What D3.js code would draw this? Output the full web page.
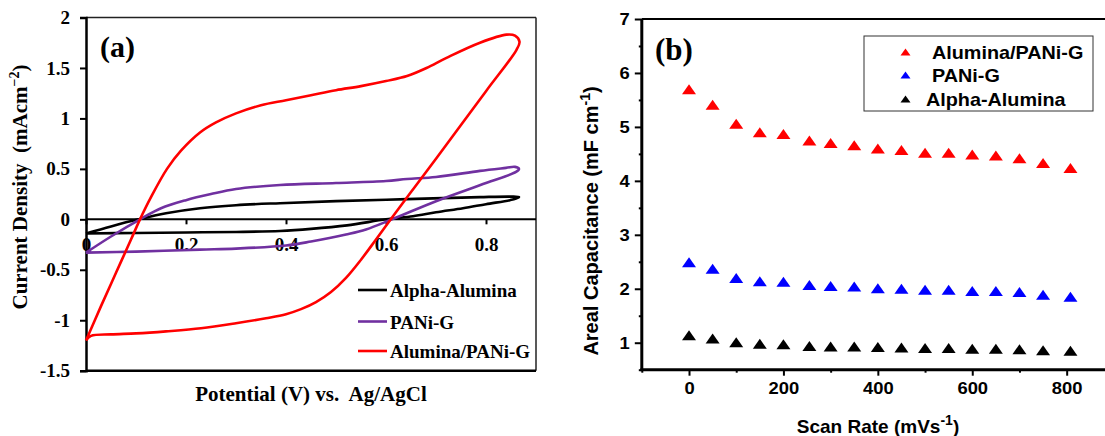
<!DOCTYPE html>
<html>
<head>
<meta charset="utf-8">
<script src="https://cdn.jsdelivr.net/npm/d3@7"></script>
<style>
html,body{margin:0;padding:0;background:#fff;}
svg{display:block;}
text{white-space:pre;}
</style>
</head>
<body>
<svg id="chart" width="1105" height="436"></svg>
<script>
// ---------- Panel (a): cyclic voltammograms [potential V, current mA cm^-2] ----------
const alphaAluminaCV = [
  [0,-0.14],[0.05,-0.07],[0.105,0],[0.16,0.06],[0.228,0.11],[0.3,0.14],[0.388,0.16],[0.5,0.18],
  [0.642,0.20],[0.788,0.22],[0.85,0.225],[0.866,0.22],[0.86,0.205],[0.848,0.19],[0.8,0.15],
  [0.754,0.11],[0.7,0.07],[0.654,0.03],[0.6,0],[0.522,-0.06],[0.45,-0.095],[0.388,-0.115],
  [0.3,-0.125],[0.2,-0.13],[0.1,-0.135],[0,-0.14]
];
const paniGCV = [
  [0,-0.33],[0.05,-0.17],[0.108,0],[0.15,0.11],[0.2,0.19],[0.25,0.25],[0.3,0.30],[0.388,0.34],
  [0.5,0.36],[0.6,0.38],[0.642,0.40],[0.7,0.42],[0.788,0.48],[0.84,0.51],[0.858,0.52],[0.866,0.50],
  [0.86,0.47],[0.8,0.36],[0.7,0.18],[0.612,0],[0.56,-0.10],[0.52,-0.15],[0.45,-0.22],[0.4,-0.26],
  [0.3,-0.29],[0.228,-0.30],[0.1,-0.32],[0,-0.33]
];
const aluminaPaniGCV = [
  [0,-1.2],[0.03,-0.86],[0.06,-0.53],[0.09,-0.20],[0.108,0],[0.13,0.22],[0.162,0.50],[0.19,0.68],
  [0.228,0.86],[0.26,0.96],[0.30,1.05],[0.35,1.13],[0.40,1.18],[0.45,1.23],[0.50,1.28],
  [0.55,1.32],[0.60,1.37],[0.642,1.42],[0.681,1.50],[0.721,1.60],[0.788,1.75],[0.841,1.83],
  [0.858,1.82],[0.867,1.76],[0.861,1.68],[0.8,1.27],[0.7,0.60],[0.65,0.27],[0.611,0.01],
  [0.58,-0.20],[0.55,-0.40],[0.52,-0.58],[0.49,-0.72],[0.46,-0.82],[0.43,-0.89],[0.40,-0.94],
  [0.36,-0.98],[0.30,-1.03],[0.23,-1.08],[0.16,-1.11],[0.10,-1.13],[0.05,-1.14],[0.01,-1.155],[0,-1.2]
];
const cvNames = ["Alpha-Alumina","PANi-G","Alumina/PANi-G"];
const cvColors = ["#000000","#7030a0","#ff0000"];
const aYTicks = [-1.5,-1,-0.5,0,0.5,1,1.5,2];
const aXTicks = [0,0.2,0.4,0.6,0.8];

// ---------- Panel (b): areal capacitance vs scan rate ----------
const scanRates = [0,50,100,150,200,255,300,350,400,450,500,550,600,650,700,750,808];
const capAluminaPaniG = [5.70,5.41,5.06,4.90,4.87,4.75,4.70,4.66,4.60,4.57,4.52,4.52,4.49,4.47,4.42,4.33,4.24];
const capPaniG = [2.49,2.37,2.20,2.14,2.13,2.07,2.05,2.04,2.01,2.00,1.98,1.98,1.96,1.96,1.94,1.89,1.85];
const capAlphaAlumina = [1.14,1.08,1.01,0.98,0.97,0.94,0.93,0.93,0.92,0.91,0.90,0.90,0.89,0.89,0.88,0.86,0.85];
const capNames = ["Alumina/PANi-G","PANi-G","Alpha-Alumina"];
const capColors = ["#ff0000","#0000ff","#000000"];
const bYTicks = [1,2,3,4,5,6,7];
const bYMinor = [0.5,1.5,2.5,3.5,4.5,5.5,6.5];
const bXTicks = [0,200,400,600,800];
const bXMinor = [-100,100,300,500,700];

const svg = d3.select("#chart");
const serif = "'Liberation Serif','Times New Roman',serif";
const sans = "'Liberation Sans',Arial,sans-serif";

// ===== Panel (a) =====
const xA = d3.scaleLinear().domain([0,0.9]).range([86,536]);
const yA = d3.scaleLinear().domain([-1.5,2]).range([370.7,17.5]);
const gA = svg.append("g");

// frame
gA.append("line").attr("x1",xA(0)).attr("x2",xA(0.9)).attr("y1",yA(2)).attr("y2",yA(2)).attr("stroke","#222").attr("stroke-width",1.5);
gA.append("line").attr("x1",xA(0.9)).attr("x2",xA(0.9)).attr("y1",yA(2)).attr("y2",yA(-1.5)).attr("stroke","#222").attr("stroke-width",1.5);
gA.append("line").attr("x1",xA(0)).attr("x2",xA(0.9)).attr("y1",yA(-1.5)).attr("y2",yA(-1.5)).attr("stroke","#000").attr("stroke-width",2.5);

// y axis
const yAxisA = d3.axisLeft(yA).tickValues(aYTicks).tickSize(6).tickPadding(10).tickFormat(d=>String(d));
const gyA = gA.append("g").attr("transform",`translate(${xA(0)},0)`).call(yAxisA);
gyA.select(".domain").attr("stroke","#000").attr("stroke-width",2.5);
gyA.selectAll(".tick line").attr("stroke-width",2);
gyA.selectAll(".tick text").attr("font-family",serif).attr("font-weight","bold").attr("font-size",19).attr("fill","#000");

// x axis at zero
const xAxisA = d3.axisBottom(xA).tickValues(aXTicks).tickSize(5).tickPadding(13).tickFormat(d=>String(d));
const gxA = gA.append("g").attr("transform",`translate(0,${yA(0)})`).call(xAxisA);
gxA.select(".domain").attr("stroke","#000").attr("stroke-width",2).attr("d",`M${xA(0)},0H${xA(0.9)}`);
gxA.selectAll(".tick line").attr("stroke-width",2);
gxA.selectAll(".tick text").attr("font-family",serif).attr("font-weight","bold").attr("font-size",19).attr("fill","#000");

// curves
const lineA = d3.line().x(d=>xA(d[0])).y(d=>yA(d[1])).curve(d3.curveCatmullRom.alpha(0.5));
[alphaAluminaCV,paniGCV,aluminaPaniGCV].forEach((s,i)=>{
  gA.append("path").attr("d",lineA(s)).attr("fill","none").attr("stroke",cvColors[i]).attr("stroke-width",2.6).attr("stroke-linejoin","round");
});

// legend (a)
const legAY = [290,321.5,351];
cvNames.forEach((n,i)=>{
  gA.append("line").attr("x1",358).attr("x2",387).attr("y1",legAY[i]).attr("y2",legAY[i]).attr("stroke",cvColors[i]).attr("stroke-width",2.6);
  gA.append("text").attr("x",390).attr("y",legAY[i]+7).attr("font-family",serif).attr("font-weight","bold").attr("font-size",19).text(n);
});

// labels (a)
gA.append("text").attr("x",100).attr("y",57).attr("font-family",serif).attr("font-weight","bold").attr("font-size",30).text("(a)");
gA.append("text").attr("x",311).attr("y",401).attr("text-anchor","middle").attr("font-family",serif).attr("font-weight","bold").attr("font-size",21).text("Potential (V) vs.  Ag/AgCl");
const ylA = gA.append("text").attr("transform","translate(27,187) rotate(-90)").attr("text-anchor","middle").attr("font-family",serif).attr("font-weight","bold").attr("font-size",21);
ylA.append("tspan").text("Current Density  (mAcm");
ylA.append("tspan").attr("font-size",14).attr("dy",-8).text("\u22122");
ylA.append("tspan").attr("dy",8).text(")");

// ===== Panel (b) =====
const xB = d3.scaleLinear().domain([-100,885]).range([641.8,1106.8]);
const yB = d3.scaleLinear().domain([0.5,7]).range([369.7,19]);
const gB = svg.append("g");

// top frame
gB.append("line").attr("x1",xB(-100)).attr("x2",1105).attr("y1",yB(7)).attr("y2",yB(7)).attr("stroke","#000").attr("stroke-width",2);

// y axis
const gyB = gB.append("g").attr("transform",`translate(${xB(-100)},0)`);
gyB.call(d3.axisLeft(yB).tickValues(bYMinor).tickSize(3).tickFormat(""));
gyB.select(".domain").remove();
gyB.selectAll(".tick line").attr("stroke-width",2);
const gyB2 = gB.append("g").attr("transform",`translate(${xB(-100)},0)`);
gyB2.call(d3.axisLeft(yB).tickValues(bYTicks).tickSize(7).tickPadding(5).tickFormat(d=>String(d)));
gyB2.select(".domain").attr("stroke-width",3).attr("d",`M0,${yB(7)}V${yB(0.5)}`);
gyB2.selectAll(".tick line").attr("stroke-width",2);
gyB2.selectAll(".tick text").each(function(){
  const t = d3.select(this);
  const x = +t.attr("x");
  t.attr("x",null).attr("dy",null).attr("transform",`translate(${x},5.5) scale(1.15,1)`);
}).attr("font-family",sans).attr("font-weight","bold").attr("font-size",16).attr("fill","#000");

// x axis
const gxB = gB.append("g").attr("transform",`translate(0,${yB(0.5)})`);
gxB.call(d3.axisBottom(xB).tickValues(bXMinor).tickSize(3).tickFormat(""));
gxB.select(".domain").remove();
gxB.selectAll(".tick line").attr("stroke-width",2);
const gxB2 = gB.append("g").attr("transform",`translate(0,${yB(0.5)})`);
gxB2.call(d3.axisBottom(xB).tickValues(bXTicks).tickSize(6).tickFormat(d=>String(d)));
gxB2.select(".domain").attr("stroke-width",3).attr("d",`M${xB(-100)-1.5},0H1105`);
gxB2.selectAll(".tick line").attr("stroke-width",2);
gxB2.selectAll(".tick text").attr("y",null).attr("dy",null).attr("transform","translate(0,24.5) scale(1.15,1)")
  .attr("font-family",sans).attr("font-weight","bold").attr("font-size",16).attr("fill","#000");

// markers
const tri = (cx,cy,w,h)=>`M${cx},${cy-h/2}L${cx+w/2},${cy+h/2}L${cx-w/2},${cy+h/2}Z`;
[capAluminaPaniG,capPaniG,capAlphaAlumina].forEach((vals,i)=>{
  gB.append("g").selectAll("path").data(vals).join("path")
    .attr("d",(d,j)=>tri(xB(scanRates[j]),yB(d),14,10))
    .attr("fill",capColors[i]);
});

// legend (b)
gB.append("rect").attr("x",864).attr("y",36).attr("width",229).attr("height",75).attr("fill","#fff").attr("stroke","#333").attr("stroke-width",1);
const legBY = [52,75,99];
const legBX = [932,932,926];
capNames.forEach((n,i)=>{
  gB.append("path").attr("d",tri(905.5,legBY[i],10,7)).attr("fill",capColors[i]);
  gB.append("text").attr("transform",`translate(${legBX[i]},${legBY[i]+6.5}) scale(1.1,1)`)
    .attr("font-family",sans).attr("font-weight","bold").attr("font-size",18).text(n);
});

// labels (b)
gB.append("text").attr("x",655).attr("y",60).attr("font-family",serif).attr("font-weight","bold").attr("font-size",31).text("(b)");
const xlB = gB.append("text").attr("x",878).attr("y",433).attr("text-anchor","middle").attr("font-family",sans).attr("font-weight","bold").attr("font-size",19);
xlB.append("tspan").text("Scan Rate (mVs");
xlB.append("tspan").attr("font-size",14).attr("dy",-8).text("-1");
xlB.append("tspan").attr("dy",8).text(")");
const ylB = gB.append("text").attr("transform","translate(598,221) rotate(-90)").attr("text-anchor","middle").attr("font-family",sans).attr("font-weight","bold").attr("font-size",20);
ylB.append("tspan").text("Areal Capacitance (mF cm");
ylB.append("tspan").attr("font-size",14).attr("dy",-8).text("-1");
ylB.append("tspan").attr("dy",8).text(")");
</script>
</body>
</html>
